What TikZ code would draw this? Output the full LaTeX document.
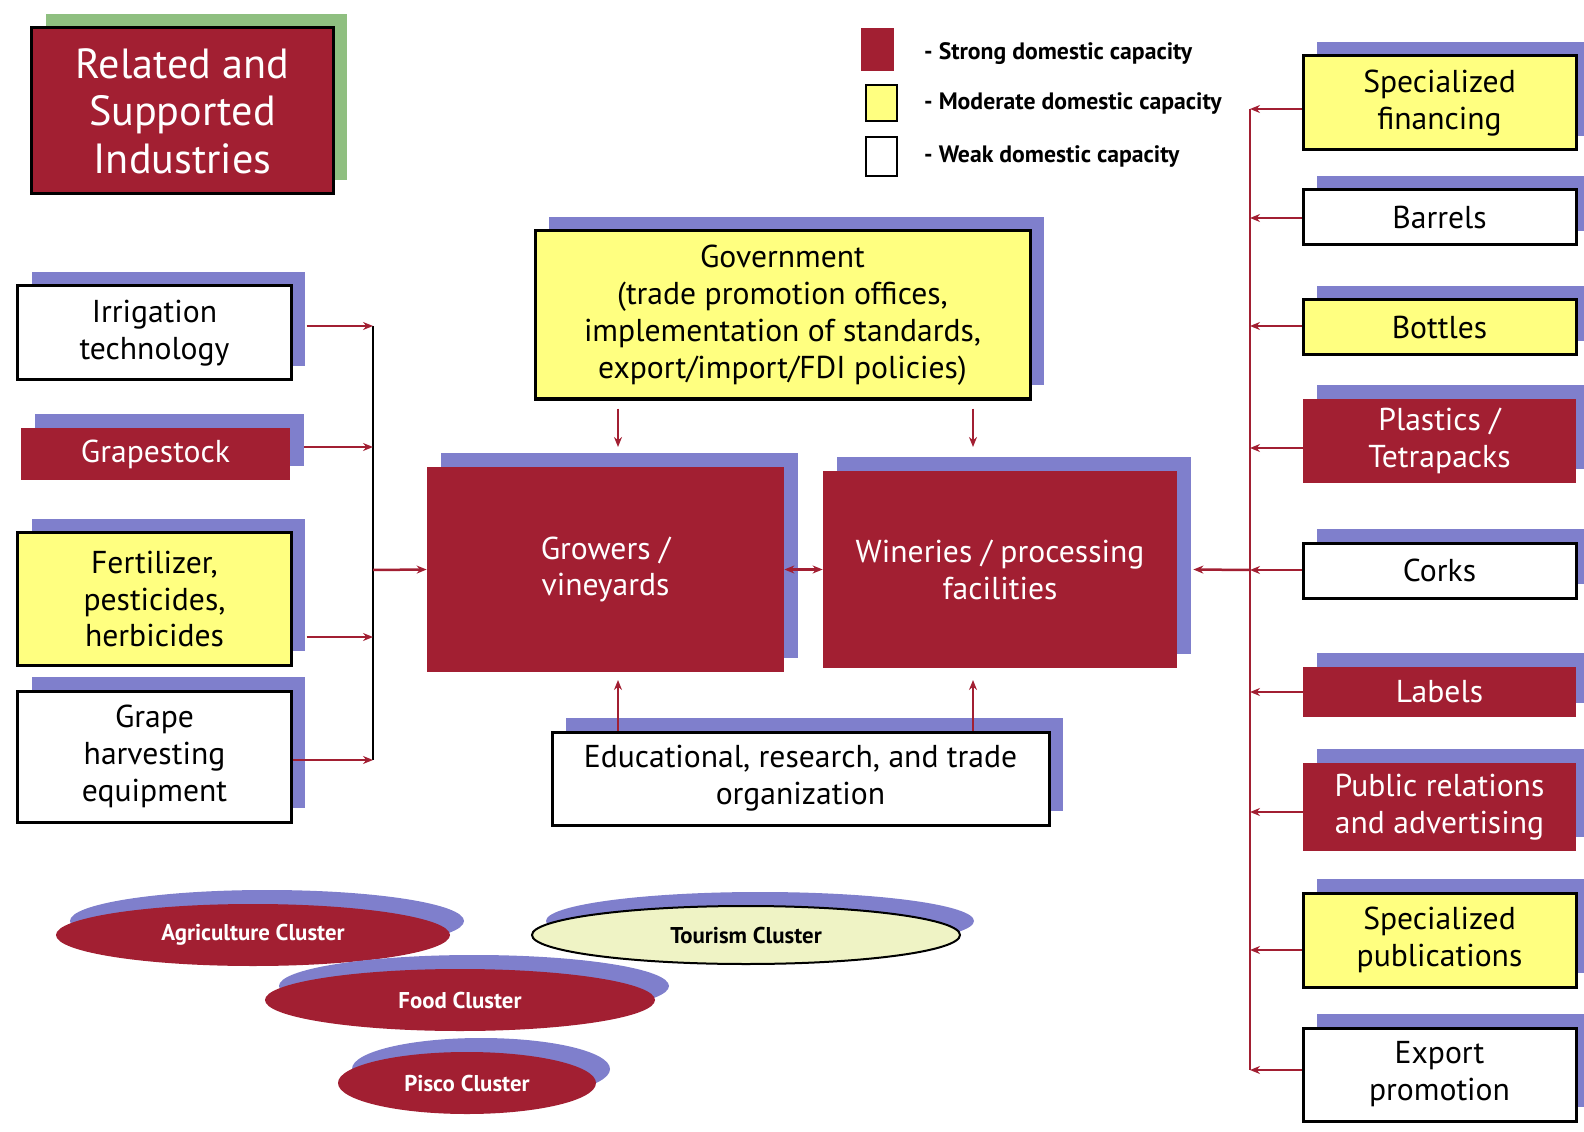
\documentclass[tikz,border=0pt]{standalone}
\usepackage{fontspec}
\setmainfont{PT Sans}
\usetikzlibrary{positioning,arrows.meta,calc,shapes.geometric,shadows}
\definecolor{wine}{HTML}{A21F32}
\definecolor{lemon}{HTML}{FFFF80}
\definecolor{lilac}{HTML}{7F7FCC}
\definecolor{sage}{HTML}{8FBF80}
\definecolor{cream}{HTML}{EFF3C5}

\begin{document}
\begin{tikzpicture}[x=0.2mm, y=-0.2mm,
  font=\fontsize{18}{21}\selectfont, >={Stealth[length=2mm,width=1.6mm]},
  sh/.style={general shadow={fill=lilac, shadow xshift=2.8mm, shadow yshift=2.8mm}},
  b/.style={sh, align=center, inner sep=0pt, minimum width=54.6mm},
  hi/.style={b, fill=wine, text=white},
  mid/.style={b, fill=lemon, draw, line width=0.6mm},
  lo/.style={b, fill=white, draw, line width=0.6mm},
  cl/.style={ellipse, sh, inner sep=0pt, minimum height=12.4mm, font=\fontsize{13}{15}\selectfont\bfseries},
  key/.style={anchor=west, font=\fontsize{13.5}{15}\selectfont\bfseries},
  ln/.style={wine, line width=0.5mm}]
\useasboundingbox (0,0) rectangle (1584,1132);

% title and legend
\node[fill=wine, draw, line width=0.6mm, text=white, align=center, inner sep=0pt,
  minimum width=60.2mm, minimum height=33.2mm, font=\fontsize{24}{27}\selectfont,
  general shadow={fill=sage, shadow xshift=2.8mm, shadow yshift=2.8mm}]
  (title) at (182.5,111) {Related and\\Supported\\Industries};
\node[fill=wine, minimum width=6.6mm, minimum height=8.6mm, inner sep=0pt] (kh) at (877.5,49.5) {};
\node[fill=lemon, draw, line width=0.5mm, minimum width=6.2mm, minimum height=7.2mm, inner sep=0pt] (km) at (881.5,103) {};
\node[fill=white, draw, line width=0.5mm, minimum width=6.2mm, minimum height=7.8mm, inner sep=0pt] (kl) at (881.5,156.5) {};
\node[key] (th) at (918,54) {- Strong domestic capacity};
\node[key] (tm) at (918,104) {- Moderate domestic capacity};
\node[key] (tl) at (918,157) {- Weak domestic capacity};

% left suppliers
\node[lo, minimum height=18.8mm] (irr) at (154.5,333) {Irrigation\\technology};
\node[hi, minimum width=53.8mm, minimum height=10.4mm] (gst) at (155.5,454) {Grapestock};
\node[mid, minimum height=26.4mm] (fert) at (154.5,599) {Fertilizer,\\pesticides,\\herbicides};
\node[lo, minimum height=26.2mm] (harv) at (154.5,756.5) {Grape\\harvesting\\equipment};

% core
\node[mid, minimum width=99mm, minimum height=33.6mm] (gov) at (782.5,315)
  {Government\\(trade promotion offices,\\implementation of standards,\\export/import/FDI policies)};
\node[hi, minimum width=71.4mm, minimum height=41mm] (grow) at (605.5,569.5) {Growers /\\vineyards};
\node[hi, minimum width=70.8mm, minimum height=39.4mm] (win) at (1000,569.5) {Wineries / processing\\facilities};
\node[lo, minimum width=99.4mm, minimum height=18.6mm] (edu) at (800.5,778.5)
  {Educational, research, and trade\\organization};

% right suppliers
\node[mid, minimum height=18.8mm] (fin) at (1439.5,103) {Specialized\\financing};
\node[lo, minimum height=11mm] (bar) at (1439.5,217.5) {Barrels};
\node[mid, minimum height=11mm] (bot) at (1439.5,327.5) {Bottles};
\node[hi, minimum height=16.8mm] (pla) at (1439.5,441) {Plastics /\\Tetrapacks};
\node[lo, minimum height=11mm] (cork) at (1439.5,570.5) {Corks};
\node[hi, minimum height=10mm] (lab) at (1439.5,692) {Labels};
\node[hi, minimum height=17.6mm] (pr) at (1439.5,807) {Public relations\\and advertising};
\node[mid, minimum height=18.8mm] (pub) at (1439.5,940) {Specialized\\publications};
\node[lo, minimum height=18.6mm] (exp) at (1439.5,1074.5) {Export\\promotion};

% clusters
\node[cl, fill=wine, text=white, minimum width=78.8mm] (agri) at (253,935) {Agriculture Cluster};
\node[cl, fill=cream, draw, line width=0.4mm, minimum width=85.6mm, minimum height=11.6mm] (tour) at (746,935) {Tourism Cluster};
\node[cl, fill=wine, text=white, minimum width=78mm] (food) at (460,1000) {Food Cluster};
\node[cl, fill=wine, text=white, minimum width=51.6mm] (pisco) at (467,1083) {Pisco Cluster};

% left bus
\coordinate (l1) at (373,326);
\coordinate (l2) at (373,447);
\coordinate (l3) at (373,637);
\coordinate (l4) at (373,760);
\coordinate (lm) at (373,570);
\draw[line width=0.4mm] (l1) -- (l4);
\draw[ln,->] ($(irr.east |- l1)+(14,0)$) -- (l1);
\draw[ln,->] ($(gst.east |- l2)+(14,0)$) -- (l2);
\draw[ln,->] ($(fert.east |- l3)+(14,0)$) -- (l3);
\draw[ln,->] (harv.east |- l4) -- (l4);
\draw[ln,->] (lm) -- (grow.west);

% government and education
\coordinate (g1) at (618,447);
\coordinate (g2) at (973,447);
\coordinate (e1) at (618,680);
\coordinate (e2) at (973,680);
\draw[ln,->] ($(gov.south -| g1)+(0,8)$) -- (g1);
\draw[ln,->] ($(gov.south -| g2)+(0,8)$) -- (g2);
\draw[ln,->] (edu.north -| e1) -- (e1);
\draw[ln,->] (edu.north -| e2) -- (e2);
\draw[ln,<->] (grow.east) -- (win.west);

% right bus
\foreach \n/\y in {fin/109,bar/218,bot/326,pla/448,cork/570,lab/692,pr/812,pub/950,exp/1070}{
  \coordinate (r\n) at (1250,\y);
  \draw[ln,->] (\n.west |- r\n) -- (r\n);
}
\draw[ln] (rfin) -- (rexp);
\draw[ln,->] (rcork) -- ($(win.east)+(16,0)$);
\end{tikzpicture}
\end{document}
